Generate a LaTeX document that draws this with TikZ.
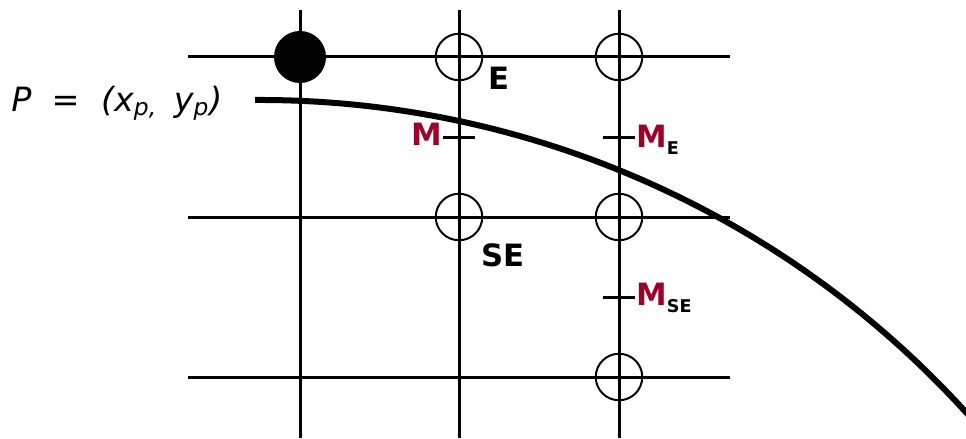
\documentclass[tikz,border=0pt]{standalone}
\usepackage{fontspec}
\setmainfont{DejaVu Sans}
\usepackage{xcolor}
\usetikzlibrary{positioning}
\definecolor{midred}{RGB}{160,0,40}
\newcommand{\msub}[1]{\raisebox{-4.5pt}{\fontsize{10}{11}\selectfont\color{black}#1}}

\begin{document}
\begin{tikzpicture}[
  x=0.2mm, y=-0.2mm,
  gridline/.style={line width=0.6mm},
  pix/.style={circle, draw, line width=0.4mm, inner sep=0pt, minimum size=9.3mm},
  pixon/.style={pix, fill=black, minimum size=10mm},
  tick/.style={fill=black, inner sep=0pt, minimum width=6.4mm, minimum height=0.6mm},
  lbl/.style={inner sep=0pt, font=\fontsize{17.5}{20}\selectfont\bfseries},
  mlbl/.style={lbl, text=midred},
  curve/.style={line width=1.2mm}
]
\useasboundingbox (0,0) rectangle (966,438);
\clip (0,0) rectangle (966,438);
% grid
\foreach \x in {300,459,619}
  \draw[gridline] (\x,10) -- (\x,438);
\foreach \y in {57,217,377}
  \draw[gridline] (188,\y) -- (730,\y);
% pixels
\node[pixon] (P) at (300,57) {};
\node[pix] (E) at (459,57) {};
\node[pix] (NE) at (619,57) {};
\node[pix] (SE) at (459,217) {};
\node[pix] (SEE) at (619,217) {};
\node[pix] (SSEE) at (619,377) {};
% midpoints
\node[tick] (M) at (459,137) {};
\node[tick] (ME) at (619,137) {};
\node[tick] (MSE) at (619,297) {};
% labels
\node[lbl, anchor=base west] (lE) at (488,89) {E};
\node[lbl, anchor=base west] (lSE) at (481,266) {SE};
\node[mlbl, anchor=base east] (lM) at (442,145) {M};
\node[mlbl, anchor=base west] (lME) at (636,147) {M\msub{E}};
\node[mlbl, anchor=base west] (lMSE) at (636,305) {M\msub{SE}};
\node[inner sep=0pt, anchor=base west, font=\fontsize{19}{22}\selectfont\itshape]
  (lP) at (11,111) {P\hspace{0.6em}=\hspace{0.65em}(x\textsubscript{p,}\hspace{0.5em}y\textsubscript{p})};
% curve
\coordinate (c0) at (255,100);
\draw[curve] (c0) arc[start angle=269.7, end angle=318, radius=954];
\end{tikzpicture}
\end{document}
